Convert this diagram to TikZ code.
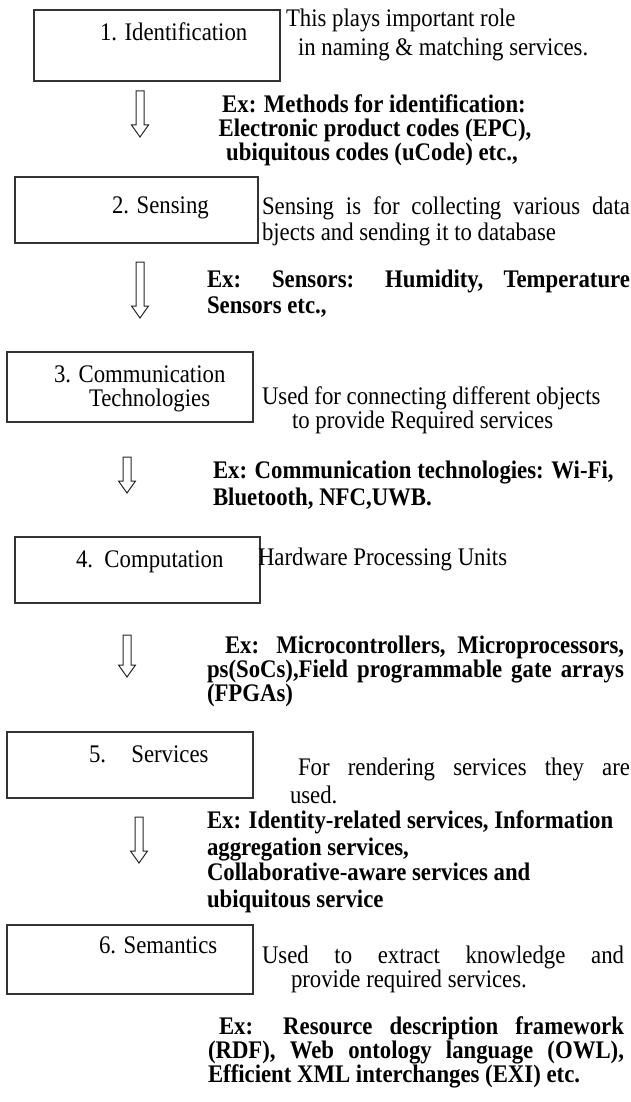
\documentclass[tikz,border=0pt]{standalone}
\usepackage{fontspec}
\setmainfont[FakeStretch=0.9]{Liberation Serif}
\newcommand\hollowarr[3]{%
  \draw[arrline] ({#1-4},#2) -- ({#1+4},#2) -- ({#1+4},{#3-12}) -- ({#1+8.5},{#3-12})
    -- (#1,#3) -- ({#1-8.5},{#3-12}) -- ({#1-4},{#3-12}) -- cycle;}
\newcommand\jline[2]{\makebox[#1pt][s]{#2}}
\begin{document}
\begin{tikzpicture}[x=1pt,y=-1pt,
  stepbox/.style={draw=black!80, line width=1.4pt, anchor=north west, inner sep=0, outer sep=0},
  txt/.style={anchor=base west, inner sep=0, outer sep=0, font=\fontsize{25.3}{27}\selectfont},
  btxt/.style={txt, font=\fontsize{25.3}{27}\selectfont\bfseries},
  ctxt/.style={btxt, anchor=base},
  arrline/.style={draw=black!85, line width=1pt, line join=miter}]
\useasboundingbox (0,0) rectangle (631,1102);
% Box 1
\node[stepbox, minimum width=246pt, minimum height=71pt] (b1) at (34,10) {};
\node[txt] (l1) at (100,41) {1. Identification};
\node[txt] (t1a) at (286,27) {This plays important role};
\node[txt] (t1b) at (298,56) {in naming \& matching services.};
\hollowarr{140}{91}{137}
\node[ctxt] (e1a) at (374,113) {Ex: Methods for identification:};
\node[ctxt] (e1b) at (375,137) {Electronic product codes (EPC),};
\node[ctxt] (e1c) at (372,161) {ubiquitous codes (uCode) etc.,};
% Box 2
\node[stepbox, minimum width=243pt, minimum height=66pt] (b2) at (15,177) {};
\node[txt] (l2) at (112,213) {2. Sensing};
\node[txt] (t2a) at (262,214) {\jline{368}{Sensing is for collecting various data}};
\node[txt] (t2b) at (262,240) {bjects and sending it to database};
\hollowarr{140}{262}{318}
\node[btxt] (e2a) at (207,287) {\jline{423}{Ex: Sensors: Humidity, Temperature}};
\node[btxt] (e2b) at (207,313) {Sensors etc.,};
% Box 3
\node[stepbox, minimum width=246pt, minimum height=70pt] (b3) at (7,352) {};
\node[txt] (l3a) at (54,382) {3. Communication};
\node[txt] (l3b) at (89,406) {Technologies};
\node[txt] (t3a) at (262,404) {Used for connecting different objects};
\node[txt] (t3b) at (292,428) {to provide Required services};
\hollowarr{127}{457}{493}
\node[btxt] (e3a) at (213,478) {Ex: Communication technologies: Wi-Fi,};
\node[btxt] (e3b) at (213,505) {Bluetooth, NFC,UWB.};
% Box 4
\node[stepbox, minimum width=245pt, minimum height=66pt] (b4) at (15,537) {};
\node[txt] (l4) at (76,567) {4.\ \ Computation};
\node[txt] (t4) at (258,565) {Hardware Processing Units};
\hollowarr{127}{635}{677}
\node[btxt] (e4a) at (225,653) {\jline{399}{Ex: Microcontrollers, Microprocessors,}};
\node[btxt] (e4b) at (207,677) {\jline{417}{ps(SoCs),Field programmable gate arrays}};
\node[btxt] (e4c) at (207,701) {(FPGAs)};
% Box 5
\node[stepbox, minimum width=246pt, minimum height=66pt] (b5) at (7,732) {};
\node[txt] (l5) at (89,762) {5.\hspace{1em}Services};
\node[txt] (t5a) at (298,775) {\jline{332}{For rendering services they are}};
\node[txt] (t5b) at (290,803) {used.};
\hollowarr{139}{817}{863}
\node[btxt] (e5a) at (207,828) {Ex: Identity-related services, Information};
\node[btxt] (e5b) at (207,855) {aggregation services,};
\node[btxt] (e5c) at (207,880) {Collaborative-aware services and};
\node[btxt] (e5d) at (207,907) {ubiquitous service};
% Box 6
\node[stepbox, minimum width=246pt, minimum height=69pt] (b6) at (7,925) {};
\node[txt] (l6) at (99,953) {6. Semantics};
\node[txt] (t6a) at (262,963) {\jline{362}{Used to extract knowledge and}};
\node[txt] (t6b) at (291,987) {provide required services.};
\node[btxt] (e6a) at (219,1034) {\jline{405}{Ex: Resource description framework}};
\node[btxt] (e6b) at (208,1058) {\jline{416}{(RDF), Web ontology language (OWL),}};
\node[btxt] (e6c) at (208,1082) {Efficient XML interchanges (EXI) etc.};
\end{tikzpicture}
\end{document}
